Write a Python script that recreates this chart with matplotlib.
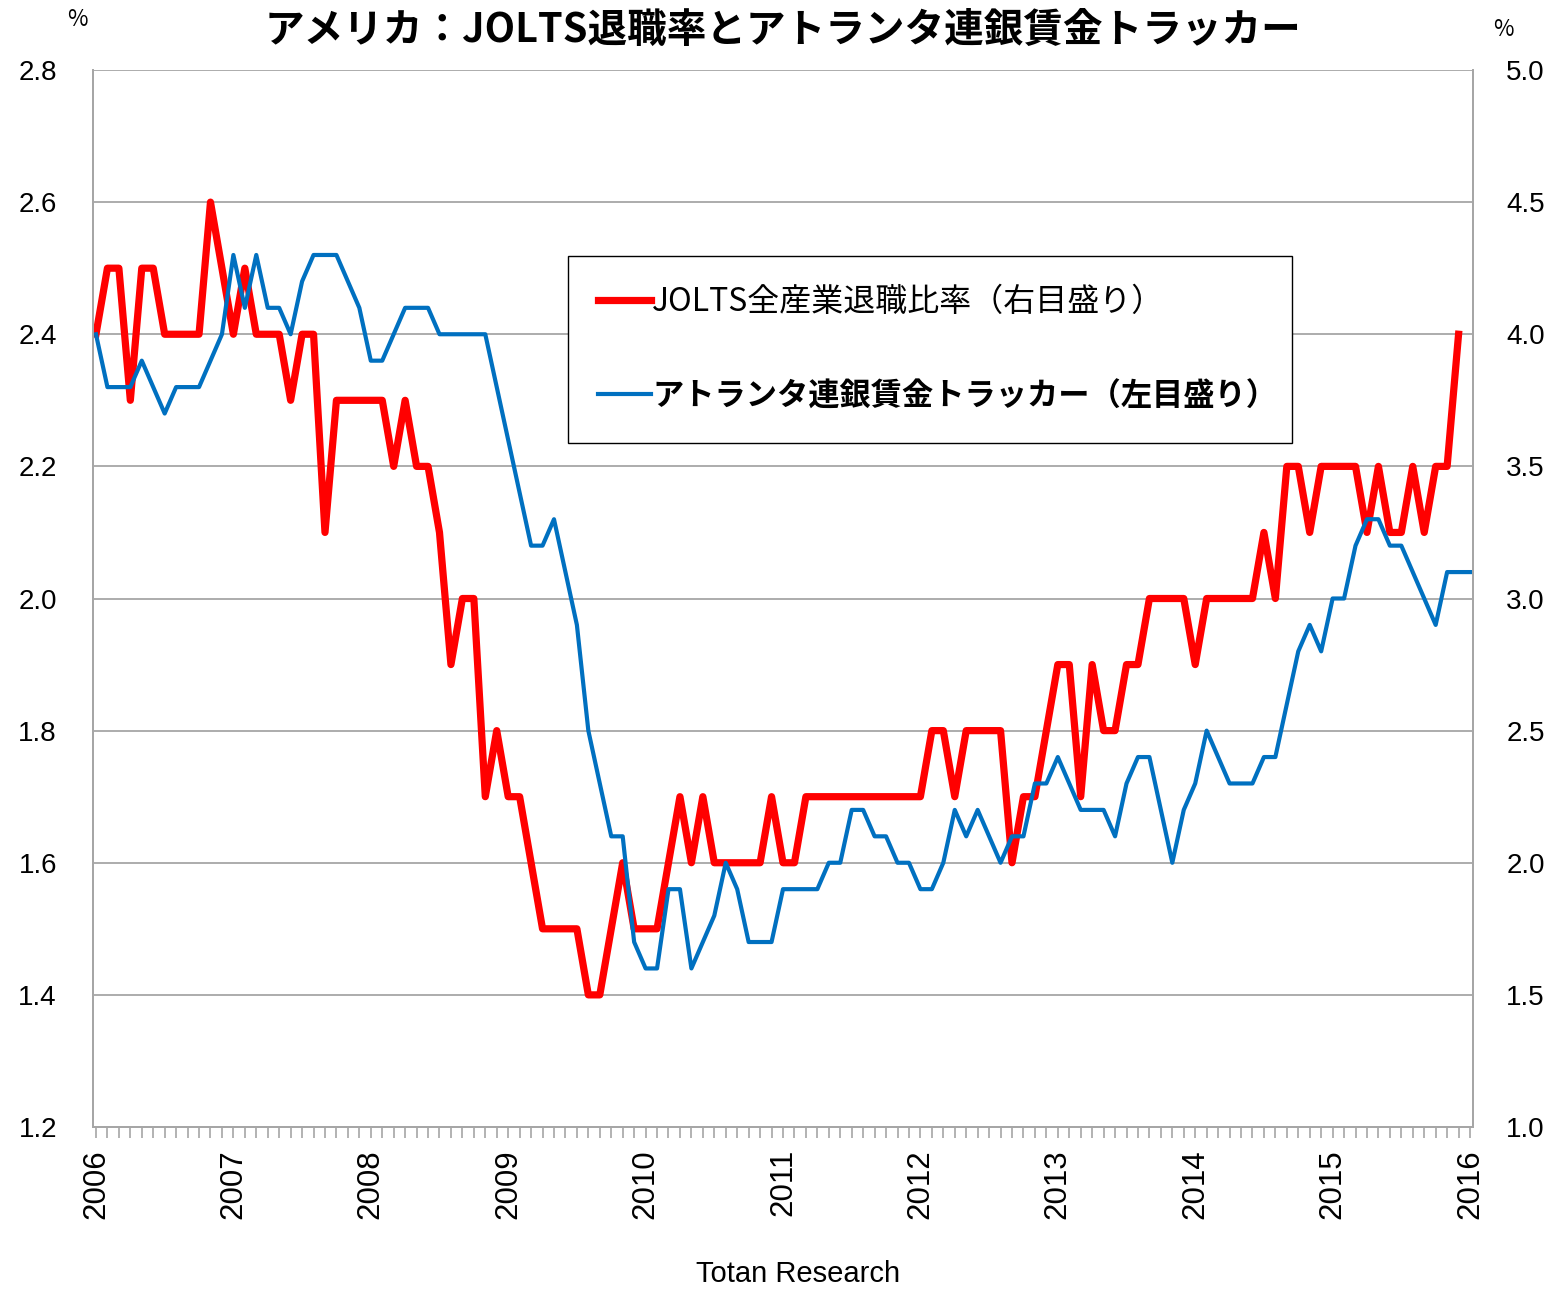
import numpy as np
import matplotlib
matplotlib.use("Agg")
import matplotlib.pyplot as plt
from matplotlib.lines import Line2D

plt.rcParams['font.family'] = ['Noto Sans CJK JP', 'DejaVu Sans']

# ==== Data (monthly, 2006/01 ~) ====
years = [str(y) for y in range(2006, 2017)]

# JOLTS quits rate (%), 2006/01 - 2015/12
jolts_quits = [
    2.4, 2.5, 2.5, 2.3, 2.5, 2.5, 2.4, 2.4, 2.4, 2.4,
    2.6, 2.5, 2.4, 2.5, 2.4, 2.4, 2.4, 2.3, 2.4, 2.4,
    2.1, 2.3, 2.3, 2.3, 2.3, 2.3, 2.2, 2.3, 2.2, 2.2,
    2.1, 1.9, 2.0, 2.0, 1.7, 1.8, 1.7, 1.7, 1.6, 1.5,
    1.5, 1.5, 1.5, 1.4, 1.4, 1.5, 1.6, 1.5, 1.5, 1.5,
    1.6, 1.7, 1.6, 1.7, 1.6, 1.6, 1.6, 1.6, 1.6, 1.7,
    1.6, 1.6, 1.7, 1.7, 1.7, 1.7, 1.7, 1.7, 1.7, 1.7,
    1.7, 1.7, 1.7, 1.8, 1.8, 1.7, 1.8, 1.8, 1.8, 1.8,
    1.6, 1.7, 1.7, 1.8, 1.9, 1.9, 1.7, 1.9, 1.8, 1.8,
    1.9, 1.9, 2.0, 2.0, 2.0, 2.0, 1.9, 2.0, 2.0, 2.0,
    2.0, 2.0, 2.1, 2.0, 2.2, 2.2, 2.1, 2.2, 2.2, 2.2,
    2.2, 2.1, 2.2, 2.1, 2.1, 2.2, 2.1, 2.2, 2.2, 2.4,
]

# Atlanta Fed wage growth tracker (%), 2006/01 - 2016/01
atlanta_wage = [
    4.0, 3.8, 3.8, 3.8, 3.9, 3.8, 3.7, 3.8, 3.8, 3.8,
    3.9, 4.0, 4.3, 4.1, 4.3, 4.1, 4.1, 4.0, 4.2, 4.3,
    4.3, 4.3, 4.2, 4.1, 3.9, 3.9, 4.0, 4.1, 4.1, 4.1,
    4.0, 4.0, 4.0, 4.0, 4.0, 3.8, 3.6, 3.4, 3.2, 3.2,
    3.3, 3.1, 2.9, 2.5, 2.3, 2.1, 2.1, 1.7, 1.6, 1.6,
    1.9, 1.9, 1.6, 1.7, 1.8, 2.0, 1.9, 1.7, 1.7, 1.7,
    1.9, 1.9, 1.9, 1.9, 2.0, 2.0, 2.2, 2.2, 2.1, 2.1,
    2.0, 2.0, 1.9, 1.9, 2.0, 2.2, 2.1, 2.2, 2.1, 2.0,
    2.1, 2.1, 2.3, 2.3, 2.4, 2.3, 2.2, 2.2, 2.2, 2.1,
    2.3, 2.4, 2.4, 2.2, 2.0, 2.2, 2.3, 2.5, 2.4, 2.3,
    2.3, 2.3, 2.4, 2.4, 2.6, 2.8, 2.9, 2.8, 3.0, 3.0,
    3.2, 3.3, 3.3, 3.2, 3.2, 3.1, 3.0, 2.9, 3.1, 3.1,
    3.1,
]

label_red = "JOLTS全産業退職比率（右目盛り）"
label_blue = "アトランタ連銀賃金トラッカー（左目盛り）"
title = "アメリカ：JOLTS退職率とアトランタ連銀賃金トラッカー"

RED = "#FF0000"
BLUE = "#0070C0"
GRID = "#A6A6A6"

W, H = 1556, 1290
fig = plt.figure(figsize=(W / 100, H / 100), dpi=100)
ax = fig.add_axes([93 / W, 163 / H, 1380 / W, 1057 / H])
ax2 = ax.twinx()

x_red = np.arange(len(jolts_quits))
x_blue = np.arange(len(atlanta_wage))
ax.plot(x_red, jolts_quits, color=RED, lw=5.2, solid_joinstyle="round")
ax2.plot(x_blue, atlanta_wage, color=BLUE, lw=3.0, solid_joinstyle="round")

# axes
ax.set_xlim(-0.26, 120.26)
ax.set_ylim(1.2, 2.8)
ax2.set_ylim(1.0, 5.0)
ax.set_yticks(np.arange(1.2, 2.81, 0.2))
ax.set_yticklabels([f"{v:.1f}" for v in np.arange(1.2, 2.81, 0.2)])
ax2.set_yticks(np.arange(1.0, 5.01, 0.5))
ax2.set_yticklabels([f"{v:.1f}" for v in np.arange(1.0, 5.01, 0.5)])

ax.grid(axis="y", color=GRID, lw=1.3)
ax.set_axisbelow(True)

for a in (ax, ax2):
    for s in ("left", "right", "bottom"):
        a.spines[s].set_color(GRID)
        a.spines[s].set_linewidth(1.3)
    a.spines["top"].set_visible(False)

ax.tick_params(axis="y", length=0, pad=26, labelsize=20)
ax2.tick_params(axis="y", length=0, pad=24, labelsize=20)
for lab in ax.get_yticklabels() + ax2.get_yticklabels():
    lab.set_family("Liberation Sans")

ax.set_xticks(np.arange(0, 121, 12))
ax.set_xticklabels(years, rotation=90, fontsize=22.5, family="Liberation Sans")
ax.set_xticks(np.arange(0, 121), minor=True)
ax.tick_params(axis="x", which="both", length=8, color=GRID, width=1.2, pad=8)

# legend
handles = [Line2D([], [], color=RED, lw=5.2), Line2D([], [], color=BLUE, lw=3.0)]
leg = ax2.legend(handles, [label_red, label_blue], loc="upper left",
                 bbox_to_anchor=(0.344, 0.824, 0.525, 0.0), mode="expand",
                 fontsize=23, frameon=True, fancybox=False, framealpha=1,
                 edgecolor="black", borderpad=0.95, labelspacing=1.95,
                 handlelength=1.65, handletextpad=0.05, borderaxespad=0)
leg.get_frame().set_linewidth(1.0)
leg.get_texts()[1].set_fontweight("bold")
leg.get_texts()[1].set_fontsize(22.5)

fig.text(783 / W, 1 - 30 / H, title, fontsize=28.5, fontweight="bold",
         ha="center", va="center")
fig.text(77 / W, 1 - 20 / H, "%", fontsize=16, ha="center", va="center")
fig.text(1503 / W, 1 - 30 / H, "%", fontsize=16, ha="center", va="center")
fig.text(798 / W, 1 - 1274 / H, "Totan Research", fontsize=21,
         family="Liberation Sans", ha="center", va="center")

fig.savefig("out.png", dpi=100)
